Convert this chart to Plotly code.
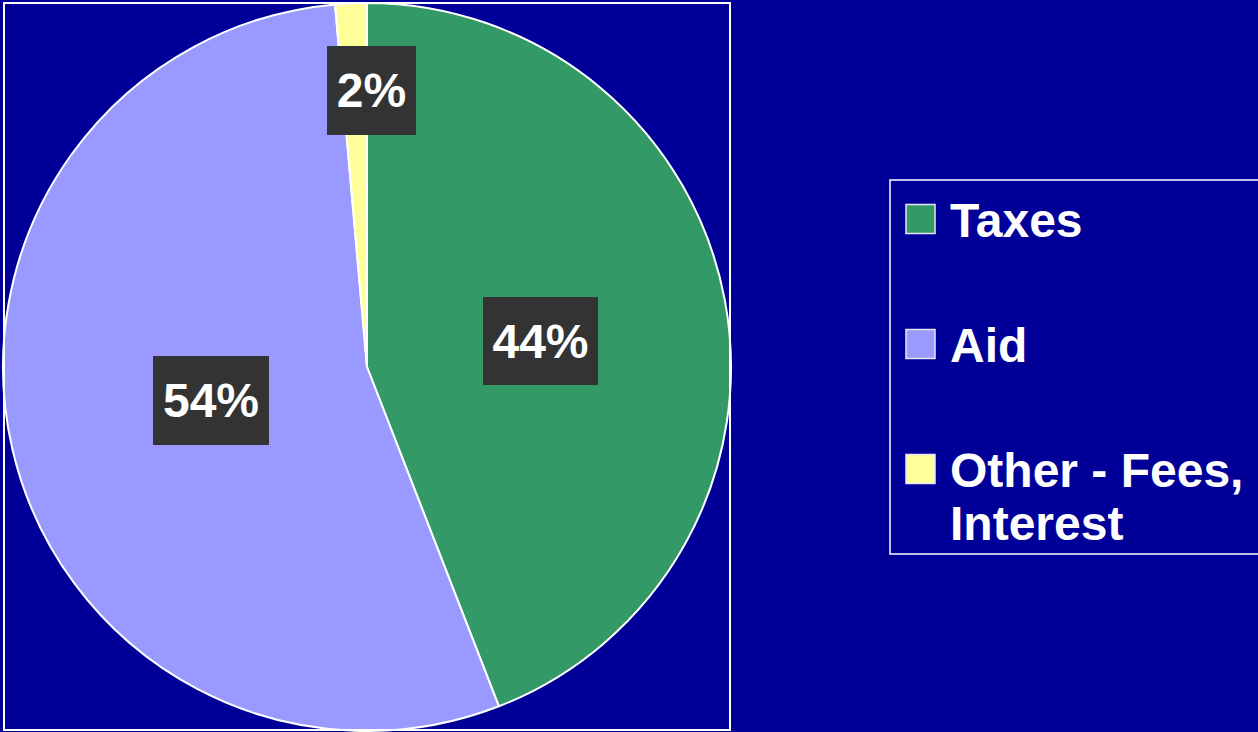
import math

import plotly.graph_objects as go

# data
categories = ["Taxes", "Aid", "Other - Fees, Interest"]
shares = [44.1, 54.5, 1.4]
share_labels = ["44%", "54%", "2%"]

# styles
slice_colors = ["#339966", "#9999FF", "#FFFF99"]
label_radius = [0.485, 0.44, 0.76]
label_xshift = [0, 0, 17]
label_yshift = [-7, 3, 0]
label_box = [(115, 88), (116, 89), (89, 89)]

W, H = 1258, 732
BG = "#000099"
FONT = "Liberation Sans, Arial, sans-serif"

# pie area in pixels
cx, cy, R = 367, 367, 364


def px(x):
    return x / W


def py(y):
    return 1 - y / H


fig = go.Figure(
    go.Pie(
        labels=categories,
        values=shares,
        sort=False,
        direction="clockwise",
        rotation=0,
        textinfo="none",
        hoverinfo="label+percent",
        marker=dict(colors=slice_colors, line=dict(color="white", width=2)),
        domain=dict(x=[px(cx - R), px(cx + R)], y=[py(cy + R), py(cy - R)]),
        showlegend=False,
    )
)

# dark label boxes placed at each slice's mid angle
total = sum(shares)
start = 0.0
for i, value in enumerate(shares):
    mid = (start + value / 2) / total * 2 * math.pi
    start += value
    r = label_radius[i] * R
    lx = cx + r * math.sin(mid)
    ly = cy - r * math.cos(mid)
    bw, bh = label_box[i]
    fig.add_annotation(
        x=px(lx),
        y=py(ly),
        xref="paper",
        yref="paper",
        xanchor="center",
        yanchor="middle",
        xshift=label_xshift[i],
        yshift=label_yshift[i],
        text=share_labels[i],
        showarrow=False,
        width=bw,
        height=bh,
        borderpad=0,
        borderwidth=0,
        bgcolor="#333333",
        font=dict(family=FONT, size=48, color="white", weight="bold"),
    )

# plot area frame
fig.add_shape(
    type="rect",
    xref="paper",
    yref="paper",
    x0=px(4),
    x1=px(730),
    y0=py(730),
    y1=py(3),
    line=dict(color="white", width=2),
)

# legend box
fig.add_shape(
    type="rect",
    xref="paper",
    yref="paper",
    x0=px(890),
    x1=px(1275),
    y0=py(554),
    y1=py(180),
    line=dict(color="white", width=1.5),
)

for i, name in enumerate(categories):
    row_y = 219 + 125 * i
    fig.add_shape(
        type="rect",
        xref="paper",
        yref="paper",
        x0=px(906),
        x1=px(935),
        y0=py(row_y + 14.5),
        y1=py(row_y - 14.5),
        fillcolor=slice_colors[i],
        line=dict(color="#E6E6F5", width=1.5),
    )
    # wrap long names after the comma, 53 px between lines
    lines = name.replace(", ", ",\n").split("\n")
    for j, line in enumerate(lines):
        fig.add_annotation(
            x=px(948),
            y=py(row_y + 1 + 53 * j),
            xref="paper",
            yref="paper",
            xanchor="left",
            yanchor="middle",
            align="left",
            text=line,
            showarrow=False,
            font=dict(family=FONT, size=48, color="white", weight="bold"),
        )

fig.update_layout(
    width=W,
    height=H,
    margin=dict(l=0, r=0, t=0, b=0),
    paper_bgcolor=BG,
    plot_bgcolor=BG,
)

fig.write_html(
    "out.html",
    config={"displayModeBar": False},
    post_script="document.body.style.margin='0';document.body.style.overflow='hidden';",
)
